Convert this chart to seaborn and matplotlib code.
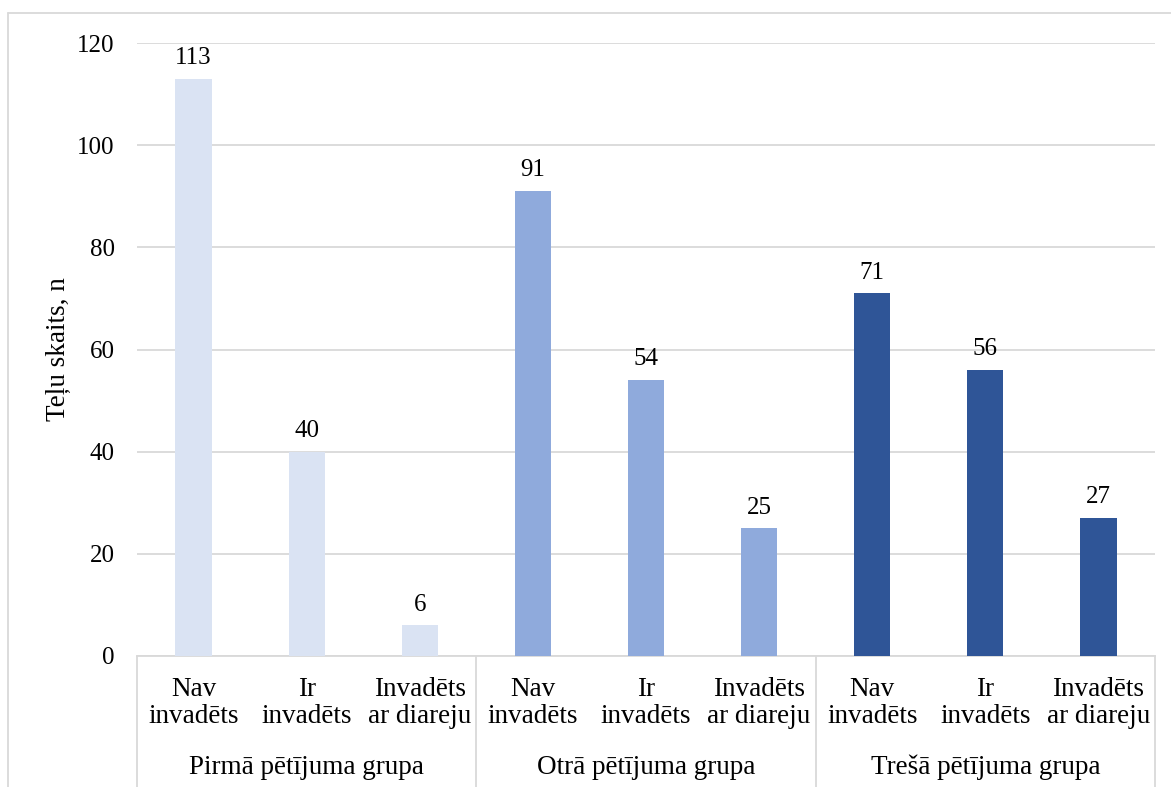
import matplotlib
matplotlib.use("Agg")
import matplotlib.pyplot as plt
import matplotlib.transforms as mtransforms
from matplotlib.lines import Line2D
import seaborn as sns
import pandas as pd

# Data
groups = ["Pirmā pētījuma grupa", "Otrā pētījuma grupa", "Trešā pētījuma grupa"]
subcats = ["Nav\ninvadēts", "Ir\ninvadēts", "Invadēts\nar diareju"]
group1 = [113, 40, 6]
group2 = [91, 54, 25]
group3 = [71, 56, 27]
colors = ["#DAE3F3", "#8FAADC", "#2F5597"]
yticks = [0, 20, 40, 60, 80, 100, 120]
ylabel = "Teļu skaits, n"

rows = []
for g, vals in zip(groups, [group1, group2, group3]):
    for s, v in zip(subcats, vals):
        rows.append({"grupa": g, "kat": f"{g}|{s}", "n": v})
df = pd.DataFrame(rows)

sns.set_theme(style="white")
plt.rcParams["font.family"] = ["Liberation Serif", "DejaVu Serif"]
plt.rcParams["text.color"] = "#000000"
plt.rcParams["axes.labelcolor"] = "#000000"
plt.rcParams["ytick.color"] = "#000000"
plt.rcParams["xtick.color"] = "#000000"
FS_NUM = 18
FS_TXT = 19.5

fig = plt.figure(figsize=(11.71, 7.87), dpi=100)
ax = fig.add_axes([137 / 1171, 1 - 656 / 787, (1155 - 137) / 1171, (656 - 43) / 787])

sns.barplot(data=df, x="kat", y="n", hue="grupa", palette=colors,
            dodge=False, width=0.32, saturation=1, legend=False, ax=ax,
            linewidth=0, zorder=3)

# value labels
for cont in ax.containers:
    ax.bar_label(cont, fmt="%d", padding=7, fontsize=FS_NUM, color="#000000")

ax.set_ylim(0, 120)
ax.set_xlim(-0.5, 8.5)
ax.set_yticks(yticks)
ax.set_yticklabels([str(t) for t in yticks], fontsize=FS_NUM, color="#000000")
ax.tick_params(axis="y", length=0, pad=16)
ax.yaxis.grid(True, color="#D9D9D9", linewidth=1.3, zorder=0)
ax.set_axisbelow(True)
for side in ["top", "right", "left"]:
    ax.spines[side].set_visible(False)
ax.spines["bottom"].set_color("#D9D9D9")
ax.spines["bottom"].set_linewidth(1.3)
ax.set_xticks([])
ax.set_xlabel("")
ax.set_ylabel(ylabel, fontsize=FS_TXT, color="#000000")
ax.yaxis.set_label_coords((70 - 137) / 1018, 0.5)

# multi-level category axis
trans = mtransforms.blended_transform_factory(ax.transData, ax.transAxes)
ax_h_px = 656 - 43
def axy(py):
    return (656 - py) / ax_h_px

for i in range(9):
    ax.text(i, axy(703), subcats[i % 3], transform=trans, ha="center", va="center",
            fontsize=FS_TXT, linespacing=1.12, color="#000000")
for j, g in enumerate(groups):
    ax.text(3 * j + 1, axy(767), g, transform=trans, ha="center", va="center",
            fontsize=FS_TXT, color="#000000")
for xb in [-0.5, 2.5, 5.5, 8.5]:
    ax.add_line(Line2D([xb, xb], [0, axy(800)], transform=trans, color="#D9D9D9",
                       linewidth=1.3, clip_on=False))

# chart border (top and left edges)
fig.add_artist(Line2D([8 / 1171, 1.0], [1 - 13 / 787, 1 - 13 / 787],
                      transform=fig.transFigure, color="#D9D9D9", linewidth=1.3))
fig.add_artist(Line2D([8 / 1171, 8 / 1171], [0, 1 - 13 / 787],
                      transform=fig.transFigure, color="#D9D9D9", linewidth=1.3))

fig.savefig("out.png", dpi=100)
